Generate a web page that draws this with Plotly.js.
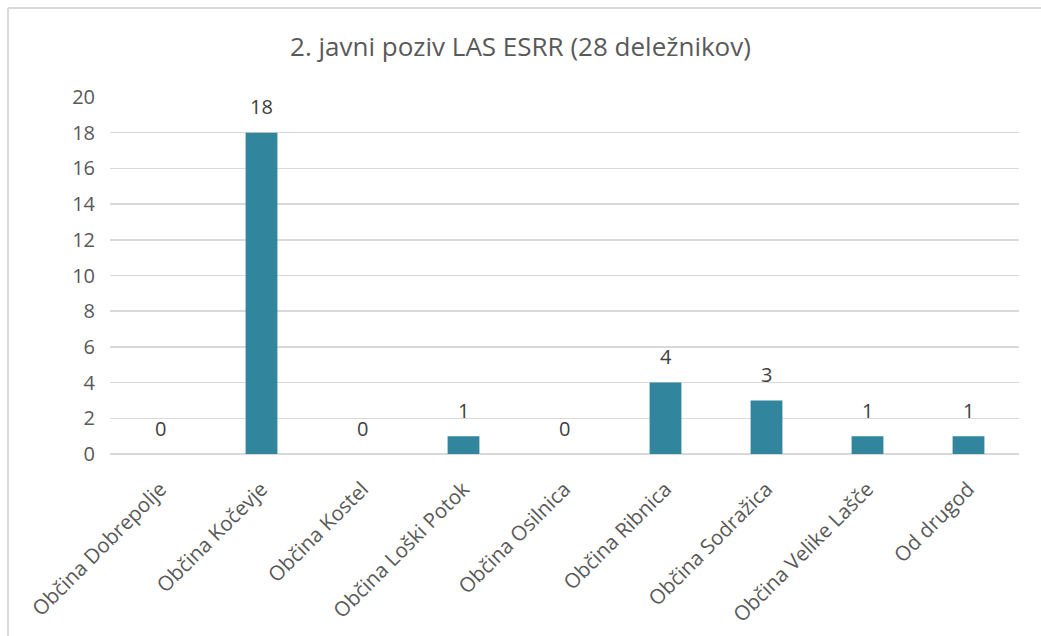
<!DOCTYPE html>
<html>
<head>
<meta charset="utf-8">
<script src="https://cdn.plot.ly/plotly-3.0.1.min.js"></script>
<style>html,body{margin:0;padding:0;background:#fff;}#chart{width:1041px;height:636px;}</style>
</head>
<body>
<div id="chart"></div>
<script>
const categories = ["Občina Dobrepolje","Občina Kočevje","Občina Kostel","Občina Loški Potok","Občina Osilnica","Občina Ribnica","Občina Sodražica","Občina Velike Lašče","Od drugod"];
const values = [0,18,0,1,0,4,3,1,1];
const titleText = "2. javni poziv LAS ESRR (28 deležnikov)";
const yTicks = [0,2,4,6,8,10,12,14,16,18,20];

const font = "Open Sans, sans-serif";
const data = [
  {type:"bar", x:categories, y:values, width:0.315, marker:{color:"#31859c"}, hoverinfo:"x+y"}
];
const labels = categories.map((c,i)=>({x:c, y:values[i], xref:"x", yref:"y", text:String(values[i]), showarrow:false,
  yanchor:"middle", yshift:26, font:{family:font, size:20, color:"#404040"}}));
const layout = {
  width:1041, height:636,
  margin:{l:110, r:22, t:97, b:182},
  paper_bgcolor:"#fff", plot_bgcolor:"#fff",
  showlegend:false,
  title:{text:titleText, font:{family:font, size:26, color:"#595959"}, x:0.5, xanchor:"center", y:0.927, yanchor:"middle"},
  xaxis:{type:"category", tickangle:-45, tickfont:{family:font, size:20.5, color:"#595959"}, showgrid:false, showline:false,
   ticks:"outside", ticklen:14, tickcolor:"rgba(0,0,0,0)", zeroline:false, fixedrange:true},
  yaxis:{range:[0,20], tickvals:yTicks, ticktext:yTicks.map(String), tickfont:{family:font, size:20, color:"#595959"},
   showgrid:true, gridcolor:"#d9d9d9", gridwidth:1.5, zeroline:true, zerolinecolor:"#d9d9d9", zerolinewidth:1.5, showline:false, ticks:"", ticklabelstandoff:14, fixedrange:true},
  annotations: labels,
  shapes:[
    {type:"line", xref:"paper", yref:"paper", x0:-0.1122, x1:1.03, y0:1.249, y1:1.249, line:{color:"#d9d9d9", width:2}},
    {type:"line", xref:"paper", yref:"paper", x0:-0.1122, x1:-0.1122, y0:1.249, y1:-0.6, line:{color:"#d9d9d9", width:2}}
  ]
};
Plotly.newPlot("chart", data, layout, {displayModeBar:false, staticPlot:true});
</script>
</body>
</html>
